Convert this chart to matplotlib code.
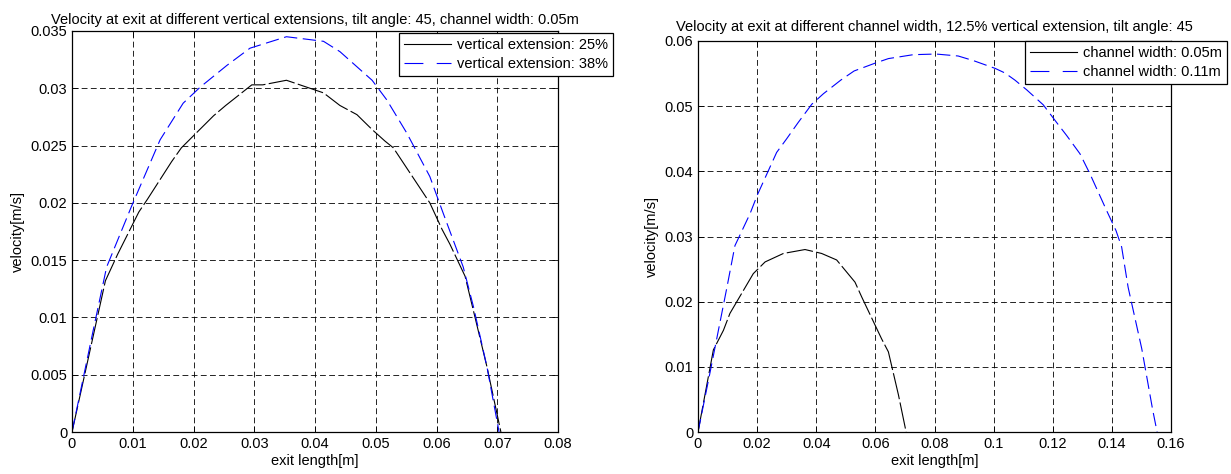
import matplotlib
matplotlib.use("Agg")
import matplotlib.pyplot as plt
from matplotlib.lines import Line2D

plt.rcParams["font.family"] = ["Liberation Sans", "DejaVu Sans"]
plt.rcParams["font.size"] = 10.5

# ── data ────────────────────────────────────────────────────────────────────
# left panel: vertical extensions, tilt 45, channel width 0.05 m
x_ve25 = [0, 0.0055, 0.0075, 0.011, 0.0124, 0.0164, 0.018, 0.0233, 0.0253,
          0.0296, 0.0314, 0.0353, 0.0414, 0.0441, 0.0469, 0.0494, 0.0515,
          0.0529, 0.0559, 0.0589, 0.0609, 0.0622, 0.0647, 0.0663, 0.0683,
          0.0706]
v_ve25 = [0, 0.0132, 0.0155, 0.0192, 0.0203, 0.0236, 0.0248, 0.0276, 0.0285,
          0.0303, 0.0303, 0.0307, 0.0296, 0.0285, 0.0277, 0.0264, 0.0254,
          0.0248, 0.0224, 0.0200, 0.0177, 0.0164, 0.0136, 0.0101, 0.0057, 0]
x_ve38 = [0, 0.0035, 0.0057, 0.0098, 0.0145, 0.0183, 0.0211, 0.0255, 0.0293,
          0.0353, 0.0414, 0.0441, 0.0494, 0.0518, 0.0551, 0.0589, 0.0611,
          0.0644, 0.0661, 0.0683, 0.0703]
v_ve38 = [0, 0.0089, 0.0144, 0.0197, 0.0255, 0.0287, 0.0301, 0.0320, 0.0335,
          0.0345, 0.0341, 0.0332, 0.0307, 0.0290, 0.0261, 0.0223, 0.0191,
          0.0144, 0.0109, 0.0057, 0]

# right panel: channel widths, 12.5 % vertical extension, tilt 45
x_cw05 = [0, 0.0052, 0.0086, 0.0108, 0.0187, 0.0227, 0.0289, 0.0362, 0.0418,
          0.0469, 0.0531, 0.0554, 0.0621, 0.0644, 0.0678, 0.0704]
v_cw05 = [0, 0.0126, 0.0156, 0.0182, 0.0243, 0.0261, 0.0274, 0.0280, 0.0274,
          0.0264, 0.0230, 0.0207, 0.0143, 0.0123, 0.0057, 0]
x_cw11 = [0, 0.0041, 0.0069, 0.0097, 0.0125, 0.0176, 0.0201, 0.0266, 0.0300,
          0.0339, 0.0385, 0.0424, 0.0483, 0.0528, 0.0599, 0.0644, 0.0728,
          0.0805, 0.0880, 0.0931, 0.1005, 0.1038, 0.1072, 0.1112, 0.1168,
          0.1213, 0.1247, 0.1292, 0.1326, 0.1382, 0.1414, 0.1433, 0.1455,
          0.1501, 0.1538, 0.1553]
v_cw11 = [0, 0.0092, 0.0156, 0.0220, 0.0286, 0.0335, 0.0364, 0.0429, 0.0450,
          0.0475, 0.0503, 0.0519, 0.0540, 0.0554, 0.0566, 0.0573, 0.0579,
          0.0580, 0.0577, 0.0570, 0.0558, 0.0551, 0.0540, 0.0525, 0.0502,
          0.0475, 0.0455, 0.0427, 0.0396, 0.0340, 0.0309, 0.0284, 0.0222,
          0.0128, 0.0034, 0]

titles = ["Velocity at exit at different vertical extensions, tilt angle: 45, channel width: 0.05m",
          "Velocity at exit at different channel width, 12.5% vertical extension, tilt angle: 45"]
labels_left = ["vertical extension: 25%", "vertical extension: 38%"]
labels_right = ["channel width: 0.05m", "channel width: 0.11m"]
xticks_left = [0, 0.01, 0.02, 0.03, 0.04, 0.05, 0.06, 0.07, 0.08]
yticks_left = [0, 0.005, 0.01, 0.015, 0.02, 0.025, 0.03, 0.035]
xticks_right = [0, 0.02, 0.04, 0.06, 0.08, 0.1, 0.12, 0.14, 0.16]
yticks_right = [0, 0.01, 0.02, 0.03, 0.04, 0.05, 0.06]

BLACK_DASH = (24, 3)
BLUE_DASH = (12, 5)
W, H = 1231, 474


def style(ax, xt, yt):
    ax.set_xlim(xt[0], xt[-1]); ax.set_ylim(yt[0], yt[-1])
    ax.set_xticks(xt); ax.set_yticks(yt)
    ax.set_xticklabels([f"{v:g}" for v in xt])
    ax.set_yticklabels([f"{v:g}" for v in yt])
    ax.tick_params(direction="in", top=True, right=True, length=4, width=0.6)
    ax.grid(True, color="black", lw=0.6, ls=(0, (7, 4)))
    for sp in ax.spines.values():
        sp.set_linewidth(0.9)
    ax.set_xlabel("exit length[m]", labelpad=2)
    ax.set_ylabel("velocity[m/s]", labelpad=4)


def legend(ax, labels, anchor):
    hs = [Line2D([], [], color="black", lw=0.8),
          Line2D([], [], color="blue", lw=0.8, dashes=(17, 12))]
    lg = ax.legend(hs, labels, loc="upper right",
                   bbox_to_anchor=(anchor[0] / W, 1 - anchor[1] / H),
                   bbox_transform=ax.figure.transFigure,
                   fancybox=False, edgecolor="black", framealpha=1,
                   borderaxespad=0, handlelength=3.2, handletextpad=0.4,
                   labelspacing=0.35, borderpad=0.35)
    lg.get_frame().set_linewidth(0.9)


fig = plt.figure(figsize=(W / 100, H / 100), dpi=100)

ax1 = fig.add_axes([72 / W, 42 / H, 486 / W, 401 / H])
ax1.plot(x_ve25, v_ve25, color="black", lw=0.8, dashes=BLACK_DASH)
ax1.plot(x_ve38, v_ve38, color="blue", lw=0.8, dashes=BLUE_DASH)
style(ax1, xticks_left, yticks_left)
ax1.set_title(titles[0], fontsize=10.5, pad=5)
legend(ax1, labels_left, (613, 33))

ax2 = fig.add_axes([698 / W, 42 / H, 473 / W, 391 / H])
ax2.plot(x_cw05, v_cw05, color="black", lw=0.8, dashes=BLACK_DASH)
ax2.plot(x_cw11, v_cw11, color="blue", lw=0.8, dashes=BLUE_DASH)
style(ax2, xticks_right, yticks_right)
ax2.set_title(titles[1], fontsize=10.5, pad=7)
legend(ax2, labels_right, (1227, 41))

fig.savefig("out.png", dpi=100, facecolor="white")
